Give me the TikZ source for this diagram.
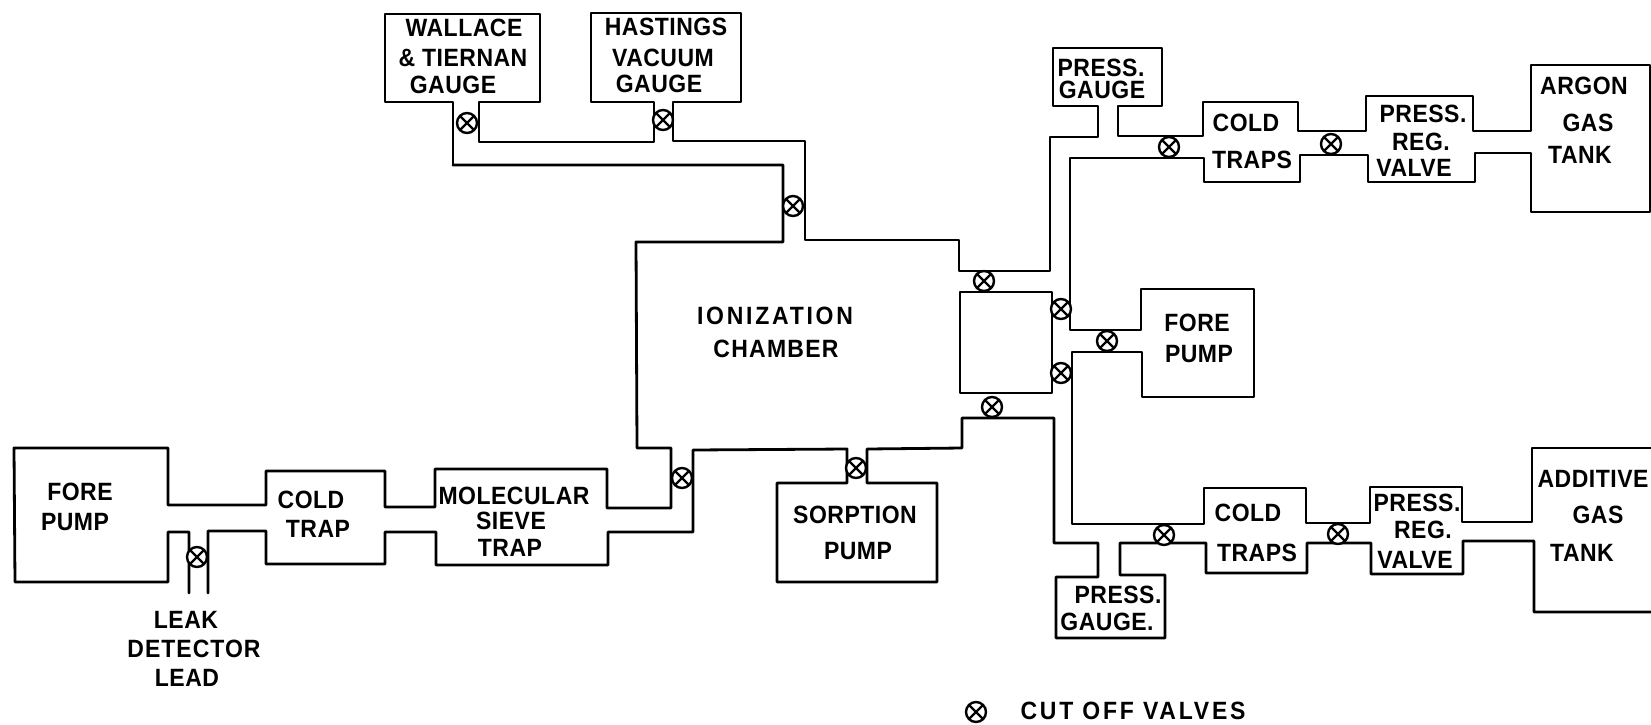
\documentclass[tikz,border=0pt]{standalone}
\usepackage{fontspec}
\setmainfont[FakeStretch=.92,LetterSpace=2]{Liberation Sans}
\tikzset{
  pipe/.style={line width=2.8pt,line join=round,line cap=round},
  lbl/.style={inner sep=0pt,font=\fontsize{25}{27}\selectfont\bfseries},
  spaced/.style={font=\fontsize{25}{27}\selectfont\bfseries\addfontfeature{LetterSpace=#1}},
  valve/.style={circle,draw,fill=white,line width=2.4pt,minimum size=20pt,inner sep=0pt,
    path picture={\draw[line width=2.4pt] (path picture bounding box.north west)--(path picture bounding box.south east)
      (path picture bounding box.north east)--(path picture bounding box.south west);}}
}
\begin{document}
\begin{tikzpicture}[x=1pt,y=-1pt]
  \useasboundingbox (0,0) rectangle (1651,724);
  \draw[pipe] (453,165)--(453,102)--(385,102)--(385,14)--(540,14)--(540,102)--(479,102)--(479,142)--(654,142)--(654,102)
    --(591,102)--(591,13)--(741,13)--(741,102)--(673,102)--(673,141)--(805,141)--(805,240)--(959,240)--(959,271)
    --(1050,271)--(1050,137)--(1098,137)--(1098,106)--(1053,106)--(1053,48)--(1162,48)--(1162,106)--(1118,106)--(1118,136)
    --(1203,136)--(1203,102)--(1298,102)--(1298,131)--(1366,131)--(1366,96)--(1473,96)--(1473,131)--(1531,131)--(1531,65)
    --(1650,65)--(1650,212)--(1531,212)--(1531,153)--(1475,153)--(1475,182)--(1368,182)--(1368,155)--(1300,155)--(1300,182)
    --(1204,182)--(1204,158)--(1070,158)--(1070,330)--(1141,330)--(1141,289)--(1254,289)--(1254,397)--(1142,397)--(1142,352)
    --(1072,352)--(1072,524)--(1204,524)--(1204,488)--(1306,488)--(1306,523)--(1370,523)--(1370,487)--(1462,487)--(1462,522)
    --(1532,522)--(1532,448)--(1651,448);
  \draw[pipe] (1651,612)--(1534,612)--(1534,541)--(1463,541)--(1463,574)--(1371,574)--(1371,543)--(1307,543)--(1307,573)--(1206,573)
    --(1206,543)--(1120,543)--(1120,575)--(1165,575)--(1165,638)--(1056,638)--(1056,577)--(1098,577)--(1098,543)--(1054,543)
    --(1054,418)--(962,418)--(962,448)--(867,449)--(867,483)--(937,483)--(937,582)--(777,582)--(777,483)--(847,483)
    --(847,449)--(693,450)--(693,532)--(608,532)--(608,565)--(436,565)--(436,532)--(385,532)--(385,564)--(266,564)
    --(266,531)--(208,531)--(208,593);
  \draw[pipe] (189,593)--(189,532)--(168,532)--(168,582)--(15,582)--(14,448)--(168,448)--(168,505)--(266,505)--(266,471)
    --(385,471)--(385,507)--(435,507)--(435,469)--(607,469)--(607,508)--(671,508)--(671,448)--(637,448)--(636,242)
    --(783,242)--(783,165)--(453,165);
  \draw[pipe] (960,292) rectangle (1052,393);
  \node[valve] (vWallace) at (467,123) {};
  \node[valve] (vHastings) at (663,120) {};
  \node[valve] (vChamber) at (793,206) {};
  \node[valve] (vGaugeA) at (984,281) {};
  \node[valve] (vSideA) at (1061,309) {};
  \node[valve] (vFore) at (1107,341) {};
  \node[valve] (vSideB) at (1061,373) {};
  \node[valve] (vGaugeB) at (992,407) {};
  \node[valve] (vArgonA) at (1169,147) {};
  \node[valve] (vArgonB) at (1331,144) {};
  \node[valve] (vAddA) at (1164,535) {};
  \node[valve] (vAddB) at (1338,534) {};
  \node[valve] (vSieve) at (682,478) {};
  \node[valve] (vSorption) at (856,468) {};
  \node[valve] (vLeak) at (197,557) {};
  \node[valve] (vKey) at (976,712) {};
  \node[lbl] (wallace) at (464,28) {WALLACE};
  \node[lbl] (tiernan) at (463,58) {\& TIERNAN};
  \node[lbl] (wGauge) at (453,85) {GAUGE};
  \node[lbl] (hastings) at (666,27) {HASTINGS};
  \node[lbl] (vacuum) at (663,58) {VACUUM};
  \node[lbl] (hGauge) at (659,84) {GAUGE};
  \node[lbl] (fore) at (80,492) {FORE};
  \node[lbl] (pump) at (75,522) {PUMP};
  \node[lbl] (cold) at (311,500) {COLD};
  \node[lbl] (trap) at (318,529) {TRAP};
  \node[lbl] (molecular) at (514,496) {MOLECULAR};
  \node[lbl] (sieve) at (511,521) {SIEVE};
  \node[lbl] (sTrap) at (510,548) {TRAP};
  \node[lbl] (leak) at (186,620) {LEAK};
  \node[lbl,spaced=4] (detector) at (194,649) {DETECTOR};
  \node[lbl] (lead) at (187,678) {LEAD};
  \node[lbl,spaced=11] (ionization) at (775,316) {IONIZATION};
  \node[lbl,spaced=5] (chamber) at (776,349) {CHAMBER};
  \node[lbl] (sorption) at (855,515) {SORPTION};
  \node[lbl] (sPump) at (858,551) {PUMP};
  \node[lbl] (pressA) at (1101,68) {PRESS.};
  \node[lbl] (gaugeA) at (1102,90) {GAUGE};
  \node[lbl] (coldA) at (1246,123) {COLD};
  \node[lbl] (trapsA) at (1252,160) {TRAPS};
  \node[lbl] (regA) at (1423,114) {PRESS.};
  \node[lbl] (regB) at (1421,142) {REG.};
  \node[lbl] (regC) at (1414,168) {VALVE};
  \node[lbl] (argon) at (1584,86) {ARGON};
  \node[lbl] (argonGas) at (1588,123) {GAS};
  \node[lbl] (argonTank) at (1580,155) {TANK};
  \node[lbl] (foreB) at (1197,323) {FORE};
  \node[lbl] (pumpB) at (1199,354) {PUMP};
  \node[lbl] (coldB) at (1248,513) {COLD};
  \node[lbl] (trapsB) at (1257,553) {TRAPS};
  \node[lbl] (regD) at (1417,503) {PRESS.};
  \node[lbl] (regE) at (1423,530) {REG.};
  \node[lbl] (regF) at (1415,560) {VALVE};
  \node[lbl] (additive) at (1593,479) {ADDITIVE};
  \node[lbl] (addGas) at (1598,515) {GAS};
  \node[lbl] (addTank) at (1582,553) {TANK};
  \node[lbl] (pressB) at (1118,595) {PRESS.};
  \node[lbl] (gaugeB) at (1107,622) {GAUGE.};
  \node[lbl,spaced=11] (key) at (1133,711) {CUT OFF VALVES};
\end{tikzpicture}
\end{document}
